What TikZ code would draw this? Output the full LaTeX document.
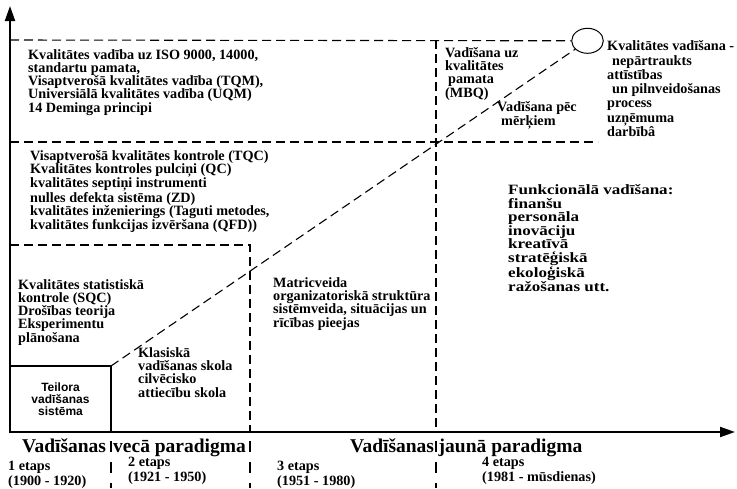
\documentclass[tikz,border=0pt]{standalone}
\usepackage{fontspec}
\setmainfont{Liberation Serif}
\newfontfamily\sansfnt{Liberation Sans}
\newfontfamily\widefnt[FakeStretch=1.2]{Liberation Serif}
\usetikzlibrary{arrows.meta,shapes.geometric}
\begin{document}
\begin{tikzpicture}[x=1pt,y=-1pt,
  txt/.style={font=\fontsize{14.2}{13.3}\selectfont\bfseries, anchor=base west, inner sep=0pt, align=left},
  small/.style={font=\fontsize{14.2}{14.7}\selectfont\bfseries, anchor=base west, inner sep=0pt, align=left},
  big/.style={font=\fontsize{19.5}{20}\selectfont\bfseries, anchor=base west, inner sep=0pt},
  axes/.style={line width=2pt, line join=miter, {Triangle[width=10pt,length=15pt]}-{Triangle[width=10pt,length=15pt]}},
  dsh/.style={line width=1.1pt, dash pattern=on 9pt off 5pt},
  sep/.style={line width=1.1pt, dash pattern=on 11pt off 10pt, dash phase=12pt},
  solidbox/.style={line width=1.3pt},
]
\useasboundingbox (0,0) rectangle (737,488);
\fill[white] (0,0) rectangle (737,488);

% key points
\coordinate (ytop) at (10,6);
\coordinate (O) at (10,432);
\coordinate (xend) at (735,432);
\coordinate (teilTL) at (10,366);
\coordinate (teilTR) at (111,366);
\coordinate (teilBR) at (111,432);

% goal ellipse
\node[draw, ellipse, minimum width=31.6pt, minimum height=25pt, inner sep=0pt, line width=1pt] (goal) at (587.5,40.8) {};

% dashed frame lines
\draw[dsh] (10,40) -- (goal.west);
\draw[dsh] (436,40) -- (436,432);
\draw[dsh] (10,142) -- (598,142);
\draw[dsh] (10,245) -- (250,245) -- (250,432);
\draw[dsh] (teilTR) -- (goal);

% separators below axis
\draw[sep] (111,432) -- (111,488);
\draw[sep] (250,432) -- (250,488);
\draw[sep] (436,432) -- (436,488);

% Teilora box
\draw[solidbox] (teilTL) -- (teilTR) -- (teilBR);
\node[font=\sansfnt\fontsize{12}{12.2}\selectfont\bfseries, align=center, inner sep=0pt] (teil) at (60.5,399) {Teilora\\vadīšanas\\sistēma};

% axes
\draw[axes] (ytop) -- (O) -- (xend);

% texts (anchor = baseline of the last line)
\node[txt] (iso) at (28,112.2) {Kvalitātes vadība uz ISO 9000, 14000,\\standartu pamata,\\Visaptverošā kvalitātes vadība (TQM),\\Universiālā kvalitātes vadība (UQM)\\14 Deminga principi};

\node[txt] (tqc) at (30,229.2) {Visaptverošā kvalitātes kontrole (TQC)\\Kvalitātes kontroles pulciņi (QC)\\kvalitātes septiņi instrumenti\\nulles defekta sistēma (ZD)\\kvalitātes inženierings (Taguti metodes,\\kvalitātes funkcijas izvēršana (QFD))};

\node[txt] (sqc) at (18,342.2) {Kvalitātes statistiskā\\kontrole (SQC)\\Drošības teorija\\Eksperimentu\\plānošana};

\node[txt] (klas) at (138,397.2) {Klasiskā\\vadīšanas skola\\cilvēcisko\\attiecību skola};

\node[txt] (matr) at (273,327.2) {Matricveida\\organizatoriskā struktūra\\sistēmveida, situācijas un\\rīcības pieejas};

\node[txt] (mbq) at (445,97.2) {Vadīšana uz\\kvalitātes\\\hspace*{3pt}pamata\\(MBQ)};

\node[txt] (mbo) at (497,125) {Vadīšana pēc\\\hspace*{4pt}mērķiem};

\node[txt, font=\fontsize{14.2}{14.3}\selectfont\bfseries] (kv) at (607,136.5) {Kvalitātes vadīšana -\\\hspace*{5pt}nepārtraukts\\attīstības\\\hspace*{5pt}un pilnveidošanas\\process\\uzņēmuma\\darbībâ};

\node[txt, font=\widefnt\fontsize{14.2}{13.6}\selectfont\bfseries] (func) at (508,291.2) {Funkcionālā vadīšana:\\finanšu\\personāla\\inovāciju\\kreatīvā\\stratēģiskā\\ekoloģiskā\\ražošanas utt.};

% bottom labels
\node[big] (v1) at (22,452) {Vadīšanas};
\node[big] (v2) at (113,452) {vecā paradigma};
\node[big] (v3) at (350,452) {Vadīšanas};
\node[big] (v4) at (438.5,452) {jaunā paradigma};

\node[small] (e1) at (8,485.2) {1 etaps\\(1900 - 1920)};
\node[small] (e2) at (128,481.4) {2 etaps\\(1921 - 1950)};
\node[small] (e3) at (277,485.2) {3 etaps\\(1951 - 1980)};
\node[small] (e4) at (482,481.4) {4 etaps\\(1981 - mūsdienas)};
\end{tikzpicture}
\end{document}
